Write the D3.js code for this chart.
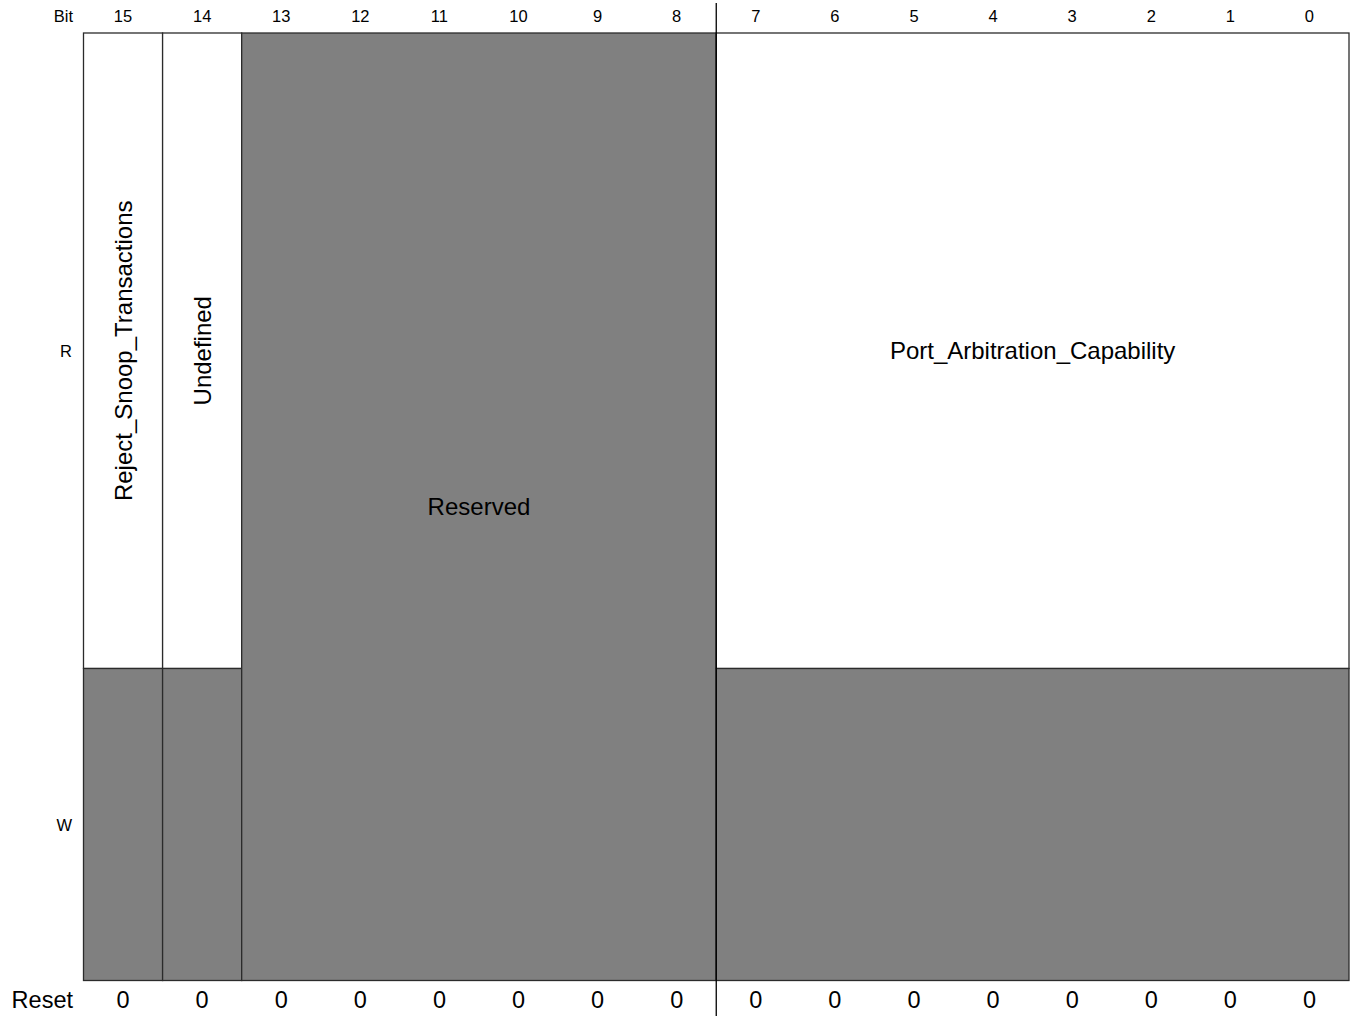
<!DOCTYPE html>
<html>
<head>
<meta charset="utf-8">
<script src="https://cdn.jsdelivr.net/npm/d3@7"></script>
<style>
  body { margin: 0; background: #fff; }
  text { font-family: "Liberation Sans", Arial, Helvetica, sans-serif; fill: #000; }
</style>
</head>
<body>
<svg id="reg" width="1350" height="1016"></svg>
<script>
// bit numbers, msb first
var bits = [15, 14, 13, 12, 11, 10, 9, 8, 7, 6, 5, 4, 3, 2, 1, 0]
var resetValues = [0, 0, 0, 0, 0, 0, 0, 0, 0, 0, 0, 0, 0, 0, 0, 0]
var rowNames = ["R", "W"]

// fields
var fieldNames = ["Reject_Snoop_Transactions", "Undefined", "Reserved", "Port_Arbitration_Capability"]
var fieldMsb = [15, 14, 13, 7]
var fieldLsb = [15, 14, 8, 0]
var fieldRead = [true, true, false, true]
var fieldWrite = [false, false, false, false]
var fieldReserved = [false, false, true, false]

window.onload = () => {
  draw_register()
}

function draw_register(){
  var svg = d3.select("#reg")
  var gray = "#808080", line = "#2b2b2b"

  var x = d3.scaleBand()
    .domain(bits)
    .range([83.5, 1349])

  // row edges: top of R, R/W split, bottom of W
  var y = d3.scaleOrdinal()
    .domain(["R", "W", "end"])
    .range([33, 668.5, 980.5])

  var fields = fieldNames.map(function(n, i){
    return {name: n, msb: fieldMsb[i], lsb: fieldLsb[i],
            read: fieldRead[i], write: fieldWrite[i], reserved: fieldReserved[i]}
  })

  var x0 = function(d){ return x(d.msb) }
  var w = function(d){ return x(d.lsb) + x.bandwidth() - x(d.msb) }

  // cells
  var cells = []
  fields.forEach(function(f){
    if (f.reserved) {
      cells.push({f: f, top: y("R"), bottom: y("end"), fill: gray})
    } else {
      cells.push({f: f, top: y("R"), bottom: y("W"), fill: f.read ? "#fff" : gray})
      cells.push({f: f, top: y("W"), bottom: y("end"), fill: f.write ? "#fff" : gray})
    }
  })

  svg.append("g")
    .selectAll("rect")
    .data(cells)
    .enter()
    .append("rect")
      .attr("x", function(d){ return x0(d.f) })
      .attr("y", function(d){ return d.top })
      .attr("width", function(d){ return w(d.f) })
      .attr("height", function(d){ return d.bottom - d.top })
      .attr("fill", function(d){ return d.fill })
      .attr("stroke", line)
      .attr("stroke-width", 1.3)

  // byte divider
  svg.append("line")
    .attr("x1", x(8) + x.bandwidth()).attr("x2", x(8) + x.bandwidth())
    .attr("y1", 3).attr("y2", 1016)
    .attr("stroke", "#000")
    .attr("stroke-width", 1.3)

  // bit header
  svg.append("text")
    .attr("x", 73).attr("y", 22)
    .attr("text-anchor", "end")
    .style("font-size", "16.5px")
    .text("Bit")
  svg.append("g")
    .selectAll("text")
    .data(bits)
    .enter()
    .append("text")
      .attr("x", function(d){ return x(d) + x.bandwidth() / 2 })
      .attr("y", 22)
      .attr("text-anchor", "middle")
      .style("font-size", "16.5px")
      .text(function(d){ return d })

  // row labels
  svg.append("g")
    .selectAll("text")
    .data(rowNames)
    .enter()
    .append("text")
      .attr("x", 72)
      .attr("y", function(d, i){ return (y(d) + y(i == 0 ? "W" : "end")) / 2 + 6 })
      .attr("text-anchor", "end")
      .style("font-size", "16.5px")
      .text(function(d){ return d })

  // reset row
  svg.append("text")
    .attr("x", 73).attr("y", 1008)
    .attr("text-anchor", "end")
    .style("font-size", "23.5px")
    .text("Reset")
  svg.append("g")
    .selectAll("text")
    .data(resetValues)
    .enter()
    .append("text")
      .attr("x", function(d, i){ return x(bits[i]) + x.bandwidth() / 2 })
      .attr("y", 1008)
      .attr("text-anchor", "middle")
      .style("font-size", "23.5px")
      .text(function(d){ return d })

  // field names: narrow fields rotated
  svg.append("g")
    .selectAll("text")
    .data(fields)
    .enter()
    .append("text")
      .attr("text-anchor", "middle")
      .attr("dominant-baseline", "central")
      .style("font-size", "24px")
      .attr("transform", function(d){
        var cx = x0(d) + w(d) / 2
        var cy = d.reserved ? (y("R") + y("end")) / 2 : (y("R") + y("W")) / 2
        if (d.msb == d.lsb) return "translate(" + cx + "," + cy + ") rotate(-90)"
        return "translate(" + cx + "," + cy + ")"
      })
      .text(function(d){ return d.name })
}
</script>
</body>
</html>
